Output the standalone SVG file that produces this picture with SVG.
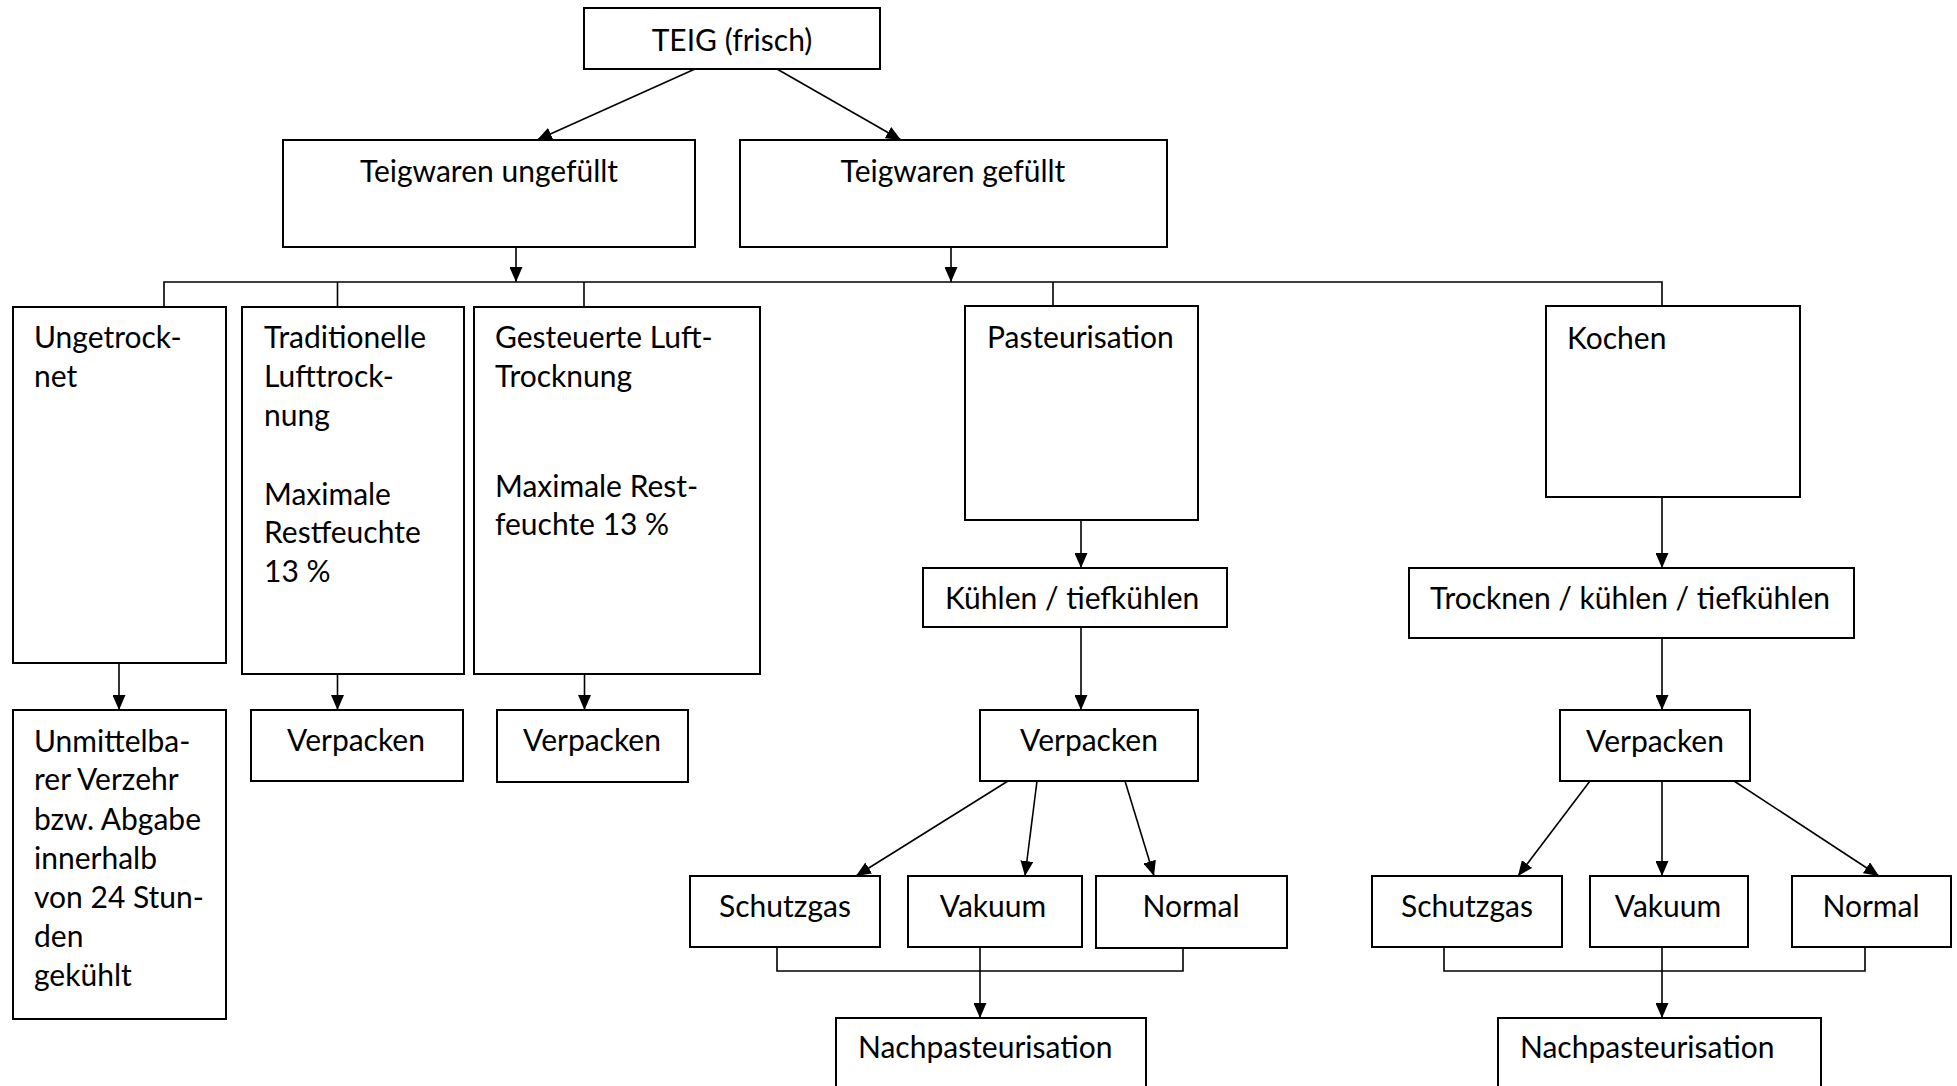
<svg xmlns="http://www.w3.org/2000/svg" width="1957" height="1086" viewBox="0 0 1957 1086">
<style>
.box{fill:#fff;stroke:#000;stroke-width:2}
.ln{fill:none;stroke:#000;stroke-width:1.6}
.t{font-family:Lato,"Open Sans","Liberation Sans",sans-serif;font-size:30px;fill:#000}
.c{text-anchor:middle}
</style>
<defs>
<marker id="ah" markerUnits="userSpaceOnUse" markerWidth="15" markerHeight="13" refX="15" refY="6.5" orient="auto"><path d="M0,0 L15,6.5 L0,13 z" fill="#000"/></marker>
</defs>
<rect width="1957" height="1086" fill="#fff"/>
<g id="connectors">
<line class="ln" x1="695" y1="69" x2="537" y2="140" marker-end="url(#ah)"/>
<line class="ln" x1="777" y1="69" x2="901" y2="140" marker-end="url(#ah)"/>
<line class="ln" x1="516" y1="247" x2="516" y2="282" marker-end="url(#ah)"/>
<line class="ln" x1="951" y1="247" x2="951" y2="282" marker-end="url(#ah)"/>
<polyline class="ln" points="164,307 164,282 1662,282 1662,306"/>
<line class="ln" x1="337.5" y1="282" x2="337.5" y2="307"/>
<line class="ln" x1="584" y1="282" x2="584" y2="307"/>
<line class="ln" x1="1053" y1="282" x2="1053" y2="306"/>
<line class="ln" x1="119" y1="663" x2="119" y2="710" marker-end="url(#ah)"/>
<line class="ln" x1="337.5" y1="674" x2="337.5" y2="710" marker-end="url(#ah)"/>
<line class="ln" x1="584.5" y1="674" x2="584.5" y2="710" marker-end="url(#ah)"/>
<line class="ln" x1="1081" y1="520" x2="1081" y2="568" marker-end="url(#ah)"/>
<line class="ln" x1="1081" y1="627" x2="1081" y2="710" marker-end="url(#ah)"/>
<line class="ln" x1="1008" y1="781" x2="856" y2="876" marker-end="url(#ah)"/>
<line class="ln" x1="1037" y1="781" x2="1025" y2="876" marker-end="url(#ah)"/>
<line class="ln" x1="1125" y1="781" x2="1154" y2="876" marker-end="url(#ah)"/>
<polyline class="ln" points="777,947 777,971 1183,971 1183,948"/>
<line class="ln" x1="980" y1="947" x2="980" y2="1018" marker-end="url(#ah)"/>
<line class="ln" x1="1662" y1="497" x2="1662" y2="568" marker-end="url(#ah)"/>
<line class="ln" x1="1662" y1="638" x2="1662" y2="710" marker-end="url(#ah)"/>
<line class="ln" x1="1590" y1="781" x2="1518" y2="876" marker-end="url(#ah)"/>
<line class="ln" x1="1662" y1="781" x2="1662" y2="876" marker-end="url(#ah)"/>
<line class="ln" x1="1734" y1="781" x2="1879" y2="876" marker-end="url(#ah)"/>
<polyline class="ln" points="1444,947 1444,971 1865,971 1865,947"/>
<line class="ln" x1="1662" y1="947" x2="1662" y2="1018" marker-end="url(#ah)"/>
</g>
<g id="teig"><rect class="box" x="584" y="8" width="296" height="61"/><text class="t c" x="732" y="51">TEIG (frisch)</text></g>
<g id="ungefuellt"><rect class="box" x="283" y="140" width="412" height="107"/><text class="t c" x="489" y="182">Teigwaren ungefüllt</text></g>
<g id="gefuellt"><rect class="box" x="740" y="140" width="427" height="107"/><text class="t c" x="953" y="182">Teigwaren gefüllt</text></g>
<g id="ungetrocknet"><rect class="box" x="13" y="307" width="213" height="356"/><text class="t" x="34"><tspan x="34" y="348">Ungetrock-</tspan><tspan x="34" y="387">net</tspan></text></g>
<g id="traditionelle"><rect class="box" x="242" y="307" width="222" height="367"/><text class="t" x="264"><tspan x="264" y="348">Traditionelle</tspan><tspan x="264" y="387">Lufttrock-</tspan><tspan x="264" y="426">nung</tspan><tspan x="264" y="505">Maximale</tspan><tspan x="264" y="543">Restfeuchte</tspan><tspan x="264" y="582">13 %</tspan></text></g>
<g id="gesteuerte"><rect class="box" x="474" y="307" width="286" height="367"/><text class="t" x="495"><tspan x="495" y="348">Gesteuerte Luft-</tspan><tspan x="495" y="387">Trocknung</tspan><tspan x="495" y="497">Maximale Rest-</tspan><tspan x="495" y="535">feuchte 13 %</tspan></text></g>
<g id="pasteurisation"><rect class="box" x="965" y="306" width="233" height="214"/><text class="t" x="987" y="348">Pasteurisation</text></g>
<g id="kochen"><rect class="box" x="1546" y="306" width="254" height="191"/><text class="t" x="1567" y="349">Kochen</text></g>
<g id="unmittelbar"><rect class="box" x="13" y="710" width="213" height="309"/><text class="t" x="34"><tspan x="34" y="752">Unmittelba-</tspan><tspan x="34" y="790">rer Verzehr</tspan><tspan x="34" y="830">bzw. Abgabe</tspan><tspan x="34" y="869">innerhalb</tspan><tspan x="34" y="908">von 24 Stun-</tspan><tspan x="34" y="947">den</tspan><tspan x="34" y="986">gekühlt</tspan></text></g>
<g id="verpacken1"><rect class="box" x="251" y="710" width="212" height="71"/><text class="t c" x="356" y="751">Verpacken</text></g>
<g id="verpacken2"><rect class="box" x="497" y="710" width="191" height="72"/><text class="t c" x="592" y="751">Verpacken</text></g>
<g id="kuehlen"><rect class="box" x="923" y="568" width="304" height="59"/><text class="t" x="945" y="609">Kühlen / tiefkühlen</text></g>
<g id="trocknen"><rect class="box" x="1409" y="568" width="445" height="70"/><text class="t" x="1430" y="609">Trocknen / kühlen / tiefkühlen</text></g>
<g id="verpacken3"><rect class="box" x="980" y="710" width="218" height="71"/><text class="t c" x="1089" y="751">Verpacken</text></g>
<g id="verpacken4"><rect class="box" x="1560" y="710" width="190" height="71"/><text class="t c" x="1655" y="752">Verpacken</text></g>
<g id="schutzgas1"><rect class="box" x="690" y="876" width="190" height="71"/><text class="t c" x="785" y="917">Schutzgas</text></g>
<g id="vakuum1"><rect class="box" x="908" y="876" width="174" height="71"/><text class="t c" x="993" y="917">Vakuum</text></g>
<g id="normal1"><rect class="box" x="1096" y="876" width="191" height="72"/><text class="t c" x="1191" y="917">Normal</text></g>
<g id="schutzgas2"><rect class="box" x="1372" y="876" width="190" height="71"/><text class="t c" x="1467" y="917">Schutzgas</text></g>
<g id="vakuum2"><rect class="box" x="1590" y="876" width="158" height="71"/><text class="t c" x="1668" y="917">Vakuum</text></g>
<g id="normal2"><rect class="box" x="1792" y="876" width="159" height="71"/><text class="t c" x="1871" y="917">Normal</text></g>
<g id="nachpast1"><rect class="box" x="836" y="1018" width="310" height="80"/><text class="t" x="858" y="1058">Nachpasteurisation</text></g>
<g id="nachpast2"><rect class="box" x="1498" y="1018" width="323" height="80"/><text class="t" x="1520" y="1058">Nachpasteurisation</text></g>
</svg>
